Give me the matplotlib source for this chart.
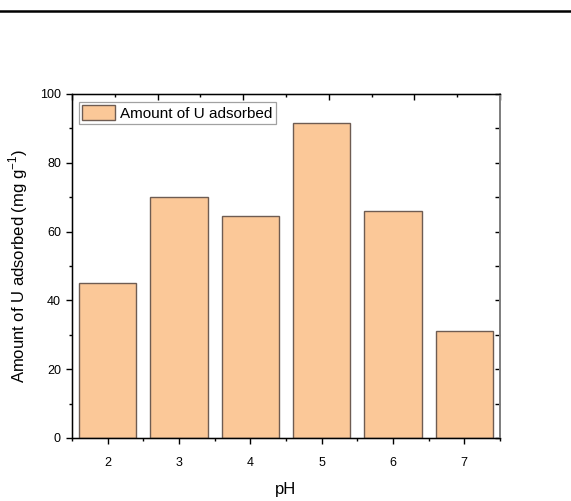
import matplotlib.pyplot as plt
from matplotlib.lines import Line2D
from matplotlib.ticker import MultipleLocator

plt.rcParams['font.family'] = ['Liberation Sans', 'DejaVu Sans']

# Data
ph = [2, 3, 4, 5, 6, 7]
amount = [45.0, 70.2, 64.6, 91.5, 66.1, 31.2]

fill = '#fbc898'
edge = '#6e5c52'

fig = plt.figure(figsize=(5.71, 5.01), dpi=100)
ax = fig.add_axes([72 / 571, 1 - 438 / 501, 428 / 571, 344 / 501])

ax.bar(ph, amount, width=0.8, color=fill, edgecolor=edge, linewidth=1.0,
       label='Amount of U adsorbed', zorder=2)

ax.set_xlim(1.5, 7.5)
ax.set_ylim(0, 100)
ax.xaxis.set_major_locator(MultipleLocator(1))
ax.xaxis.set_minor_locator(MultipleLocator(0.5))
ax.yaxis.set_major_locator(MultipleLocator(20))
ax.yaxis.set_minor_locator(MultipleLocator(10))
ax.tick_params(which='major', direction='out', length=4, width=1, labelsize=9)
ax.tick_params(which='minor', direction='out', length=2.5, width=1)
ax.tick_params(axis='x', which='major', pad=10)
ax.tick_params(axis='y', which='major', pad=4)

ax.set_xlabel('pH', fontsize=12, labelpad=9)
ax.set_ylabel('Amount of U adsorbed (mg g$^{\\mathregular{-1}}$)', fontsize=12, labelpad=7)

for s in ax.spines.values():
    s.set_color('#222222')
    s.set_linewidth(1)
ax.spines['right'].set_color('#808080')
ax.spines['right'].set_linewidth(1.4)

# top axis (Origin default with separate 0-10 scale, ticks only)
top = ax.twiny()
top.set_xlim(0, 10)
top.xaxis.set_major_locator(MultipleLocator(2))
top.xaxis.set_minor_locator(MultipleLocator(1))
top.tick_params(which='major', direction='in', length=4, width=1, labeltop=False)
top.tick_params(which='minor', direction='in', length=2.5, width=1)
top.spines['right'].set_color('#808080')
top.spines['right'].set_linewidth(1.4)

# right axis ticks only
right = ax.twinx()
right.set_ylim(0, 100)
right.yaxis.set_major_locator(MultipleLocator(20))
right.yaxis.set_minor_locator(MultipleLocator(10))
right.tick_params(which='both', direction='in', length=3.5, width=1, labelright=False)
right.spines['right'].set_color('#808080')
right.spines['right'].set_linewidth(1.4)

leg = ax.legend(loc='upper left', bbox_to_anchor=(6.5 / 428, 1 - 8 / 344),
                borderaxespad=0, fontsize=11, frameon=True, fancybox=False,
                handlelength=2.2, handleheight=1.05, borderpad=0.22,
                handletextpad=0.3)
leg.get_frame().set_edgecolor('#8a8a8a')
leg.get_frame().set_linewidth(0.9)

# page rule at the top
fig.add_artist(Line2D([0, 1], [1 - 10.5 / 501, 1 - 10.5 / 501], color='black',
                      linewidth=1.8, transform=fig.transFigure))

fig.savefig('out.png', dpi=100)
